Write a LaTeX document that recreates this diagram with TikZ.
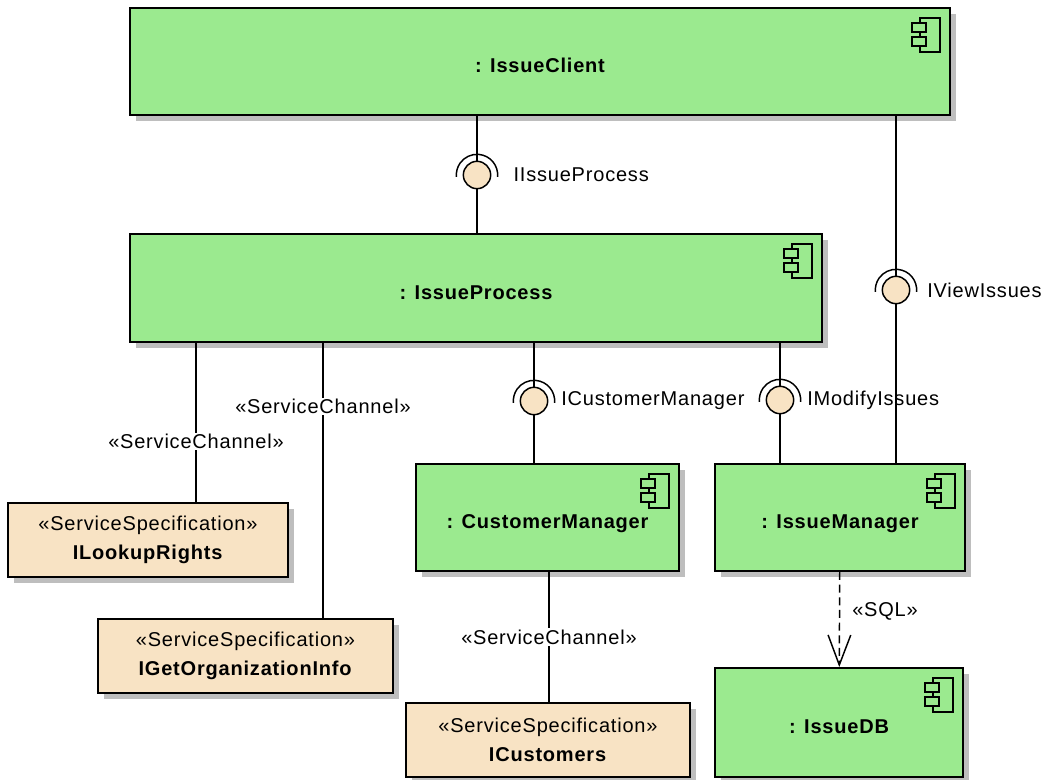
\documentclass[tikz,border=0pt]{standalone}
\usepackage{fontspec}
\setmainfont{Liberation Sans}[LetterSpace=4]
\usetikzlibrary{positioning,shadows,arrows.meta,calc}
\definecolor{compgreen}{RGB}{155,234,143}
\definecolor{specbeige}{RGB}{248,227,196}
\definecolor{shadowgray}{RGB}{190,190,190}

\begin{document}
\begin{tikzpicture}[x=0.75pt,y=-0.75pt,
						every node/.style={font=\fontsize{15}{21.75}\selectfont},
						comp/.style={draw, line width=1.4pt, fill=compgreen, font=\fontsize{15}{21.75}\selectfont\bfseries,
							text height=17pt, text depth=0pt,
							drop shadow={shadow xshift=4.5pt, shadow yshift=-4.5pt, opacity=1, fill=shadowgray}},
						spec/.style={draw, line width=1.4pt, fill=specbeige, align=center, minimum height=55.5pt,
							drop shadow={shadow xshift=4.5pt, shadow yshift=-4.5pt, opacity=1, fill=shadowgray}},
						ball/.style={circle, draw, line width=1.1pt, fill=specbeige, minimum size=20.5pt, inner sep=0pt, outer sep=0pt},
						socket/.style={line width=1.1pt},
						icon/.style={line width=1pt},
						conn/.style={line width=1.1pt},
						dep/.style={line width=1.1pt, dash pattern=on 6pt off 3.5pt, -{Straight Barb[length=22.5pt,width=17pt]}},
						lbl/.style={inner sep=1pt},
						chan/.style={fill=white, inner sep=1pt}]
	\useasboundingbox (0,0) rectangle (1047,780);

	% components
	\node[comp, minimum width=615pt, minimum height=80.25pt] (client) at (540,61.5) {: IssueClient};
	\node[comp, minimum width=519pt, minimum height=81pt] (process) at (476,288) {: IssueProcess};
	\node[comp, minimum width=197.25pt, minimum height=80.25pt] (custmgr) at (547.5,517.5) {: CustomerManager};
	\node[comp, minimum width=187.5pt, minimum height=80.25pt] (issuemgr) at (840,517.5) {: IssueManager};
	\node[comp, minimum width=186pt, minimum height=81.75pt] (issuedb) at (839,722.5) {: IssueDB};

	\foreach \n in {client,process,custmgr,issuemgr,issuedb}{
		\draw[icon] ($(\n.north east)+(-31,11)$) rectangle ($(\n.north east)+(-11,45)$);
		\draw[icon, fill=compgreen] ($(\n.north east)+(-39,16)$) rectangle ($(\n.north east)+(-25,25)$);
		\draw[icon, fill=compgreen] ($(\n.north east)+(-39,30)$) rectangle ($(\n.north east)+(-25,39)$);
	}

	% service specifications
	\node[spec, minimum width=210pt] (lookup) at (148,540) {«ServiceSpecification»\\\textbf{ILookupRights}};
	\node[spec, minimum width=221.25pt] (orginfo) at (245.5,656) {«ServiceSpecification»\\\textbf{IGetOrganizationInfo}};
	\node[spec, minimum width=213pt] (customers) at (548,740) {«ServiceSpecification»\\\textbf{ICustomers}};

	% provided / required interfaces
	\node[ball] (bIP) at (477,175) {};
	\node[ball] (bVI) at (896,290) {};
	\node[ball] (bCM) at (534,401) {};
	\node[ball] (bMI) at (780,400) {};
	\node[lbl, right=16pt of bIP] (tIP) {IIssueProcess};
	\node[lbl, right=12pt of bVI] (tVI) {IViewIssues};
	\node[lbl, right=9pt of bCM] (tCM) {ICustomerManager};
	\node[lbl, right=9pt of bMI] (tMI) {IModifyIssues};

	\draw[conn] (bIP) -- (bIP |- client.south);
	\draw[conn] (bIP) -- (bIP |- process.north);
	\draw[conn] (bVI) -- (bVI |- client.south);
	\draw[conn] (bVI) -- (bVI |- issuemgr.north);
	\draw[conn] (bCM) -- (bCM |- process.south);
	\draw[conn] (bCM) -- (bCM |- custmgr.north);
	\draw[conn] (bMI) -- (bMI |- process.south);
	\draw[conn] (bMI) -- (bMI |- issuemgr.north);

	\foreach \b in {bIP,bVI,bCM,bMI}
		\draw[socket] (\b.center) ++(-5:15.5pt) arc[start angle=-5, end angle=185, radius=15.5pt];

	% service channels
	\coordinate (sc1) at (196,0);
	\coordinate (sc2) at (323,0);
	\coordinate (sc3) at (549,0);
	\draw[conn] (sc1 |- process.south) -- node[chan, pos=0.62] {«ServiceChannel»} (sc1 |- lookup.north);
	\draw[conn] (sc2 |- process.south) -- node[chan, pos=0.23] {«ServiceChannel»} (sc2 |- orginfo.north);
	\draw[conn] (sc3 |- custmgr.south) -- node[chan, pos=0.5] {«ServiceChannel»} (sc3 |- customers.north);

	\draw[dep] (issuemgr) -- node[lbl, pos=0.42, right=8pt] {«SQL»} (issuedb);
\end{tikzpicture}
\end{document}
